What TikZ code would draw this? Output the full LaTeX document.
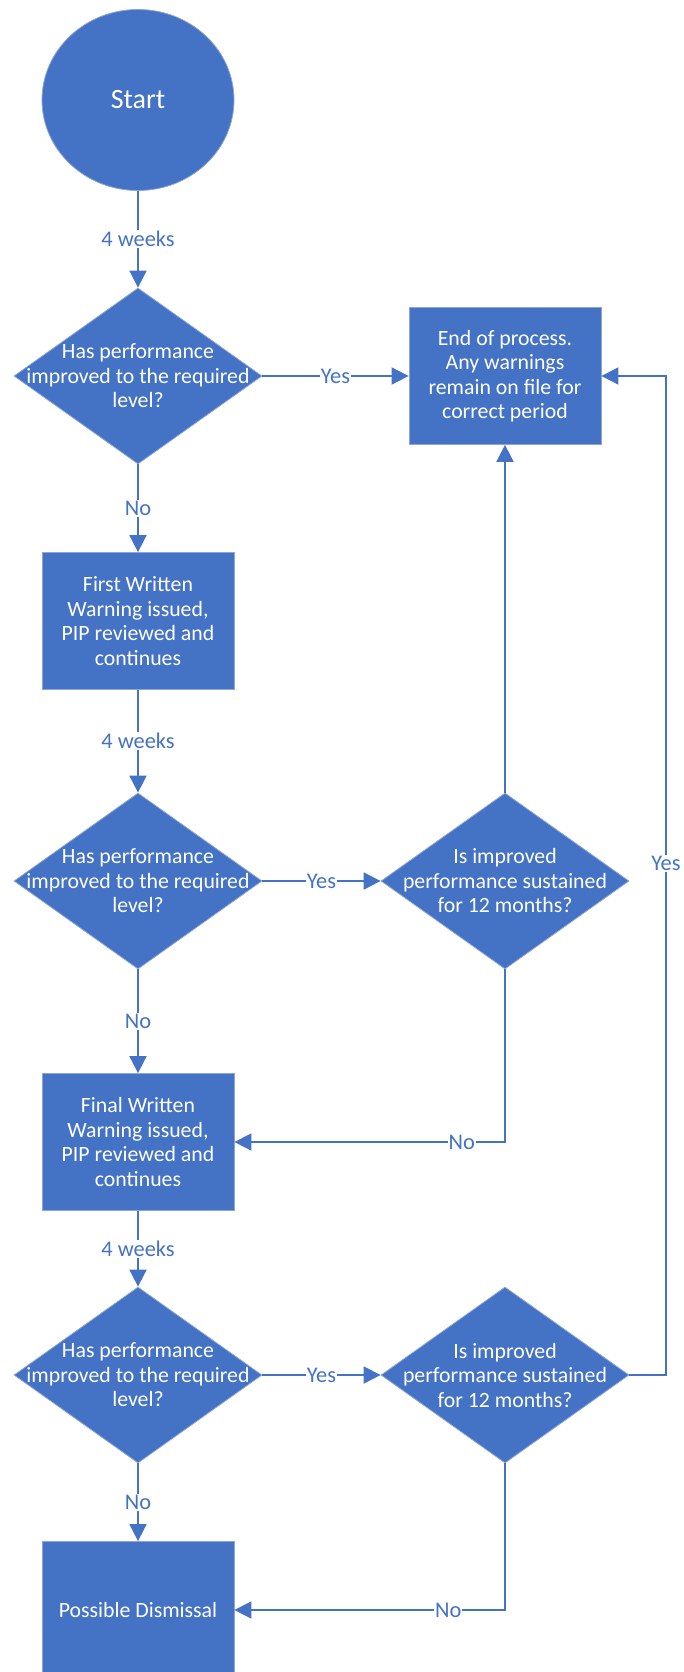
\documentclass[tikz,border=0pt]{standalone}
\usepackage{fontspec}
\setmainfont{Carlito}
\usetikzlibrary{shapes.geometric,arrows.meta}
\definecolor{ofblue}{HTML}{4472C4}
\definecolor{edgec}{HTML}{8EA6D6}
\begin{document}
\begin{tikzpicture}[x=1pt,y=-1pt,
  every node/.style={font=\fontsize{21.8}{24.5}\selectfont},
  box/.style={rectangle, fill=ofblue, draw=edgec, line width=0.8pt, minimum width=192pt, minimum height=137pt, text=white, align=center, inner sep=0},
  dia/.style={diamond, fill=ofblue, draw=edgec, line width=0.8pt, minimum width=248pt, minimum height=176pt, inner sep=0},
  diatext/.style={label={[text=white, align=center, font=\fontsize{21.8}{24.5}\selectfont]center:#1}},
  conn/.style={draw=ofblue, line width=1.8pt, -{Triangle[length=17pt,width=17pt]}},
  lbl/.style={fill=white, text=ofblue, inner sep=1pt, font=\fontsize{22.4}{24.5}\selectfont}
]
\useasboundingbox (0,0) rectangle (683,1672);
\node[ellipse, fill=ofblue, draw=edgec, line width=0.8pt, minimum width=192pt, minimum height=181pt, text=white, inner sep=0, font=\fontsize{28}{30}\selectfont] (start) at (138,100) {Start};
\node[dia, diatext={Has performance\\improved to the required\\level?}] (d1) at (138,376) {};
\node[box] (endp) at (505,376) {End of process.\\Any warnings\\remain on file for\\correct period};
\node[box] (b1) at (138,621) {First Written\\Warning issued,\\PIP reviewed and\\continues};
\node[dia, diatext={Has performance\\improved to the required\\level?}] (d2) at (138,881) {};
\node[dia, diatext={Is improved\\performance sustained\\for 12 months?}] (s2) at (505,881) {};
\node[box] (b2) at (138,1142) {Final Written\\Warning issued,\\PIP reviewed and\\continues};
\node[dia, diatext={Has performance\\improved to the required\\level?}] (d3) at (138,1375) {};
\node[dia, diatext={Is improved\\performance sustained\\for 12 months?}] (s3) at (505,1375) {};
\node[box] (b3) at (138,1610) {Possible Dismissal};
\coordinate (rt) at (666,376);

\draw[conn] (start) -- node[lbl]{4 weeks} (d1);
\draw[conn] (d1) -- node[lbl]{Yes} (endp);
\draw[conn] (d1) -- node[lbl]{No} (b1);
\draw[conn] (b1) -- node[lbl]{4 weeks} (d2);
\draw[conn] (d2) -- node[lbl]{Yes} (s2);
\draw[conn] (s2) -- (endp);
\draw[conn] (d2) -- node[lbl]{No} (b2);
\draw[conn] (s2.south) |- node[lbl, pos=0.58]{No} (b2.east);
\draw[conn] (b2) -- node[lbl]{4 weeks} (d3);
\draw[conn] (d3) -- node[lbl]{Yes} (s3);
\draw[conn] (d3) -- node[lbl]{No} (b3);
\draw[conn] (s3.south) |- node[lbl, pos=0.605]{No} (b3.east);
\draw[conn] (s3.east) -| node[lbl, pos=0.756]{Yes} (rt) -- (endp.east);
\end{tikzpicture}
\end{document}
